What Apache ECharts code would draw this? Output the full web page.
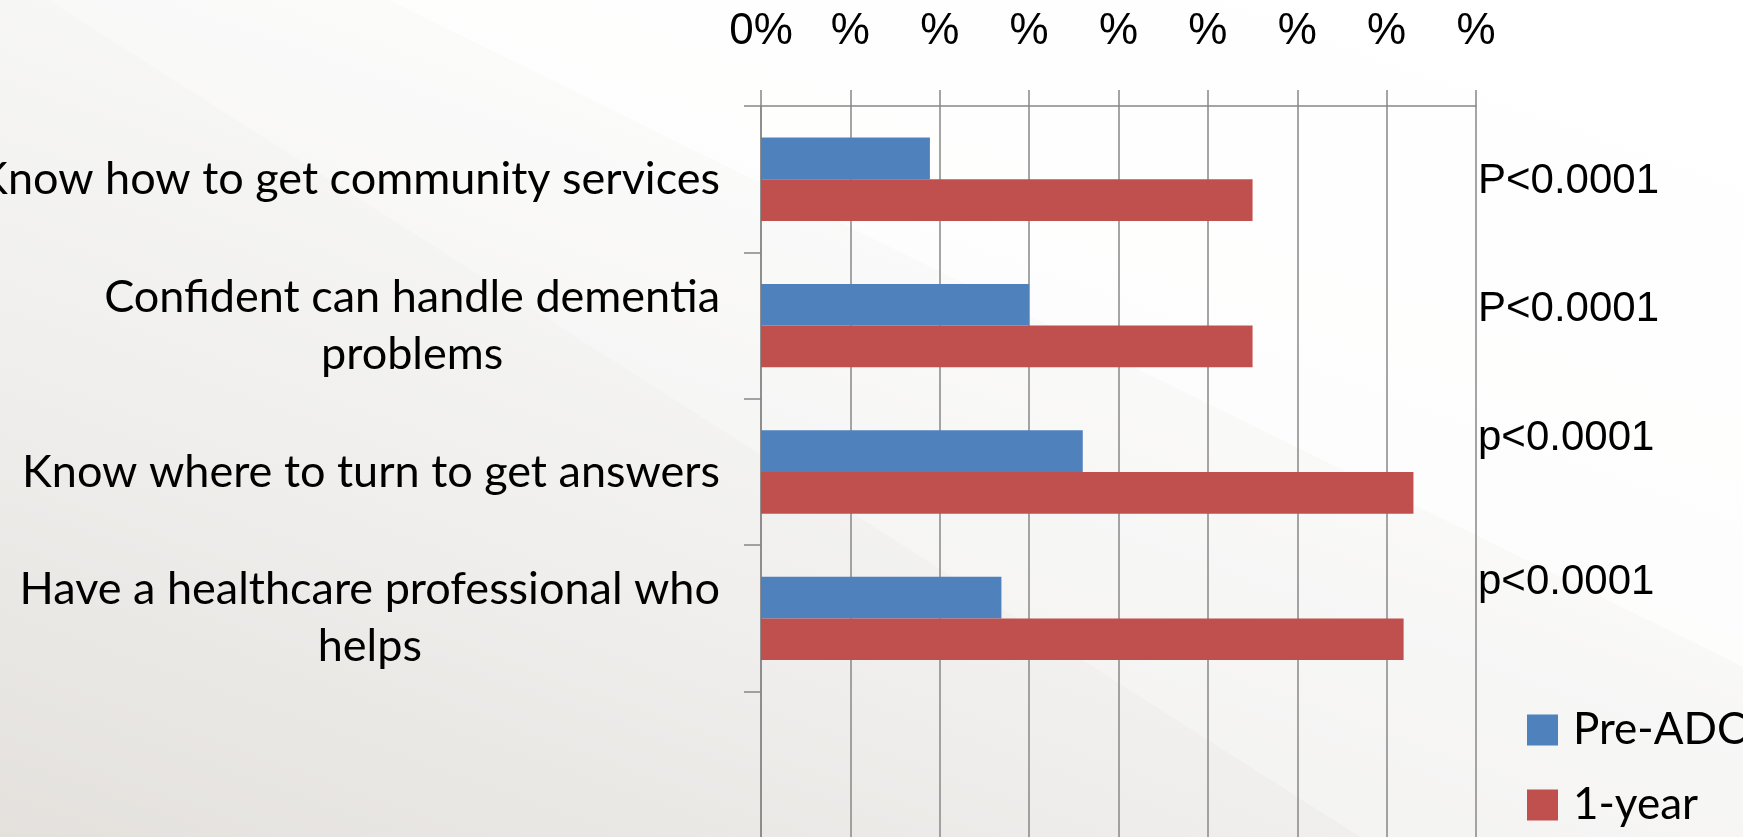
<!DOCTYPE html>
<html>
<head>
<meta charset="utf-8">
<script src="https://cdn.jsdelivr.net/npm/echarts@6/dist/echarts.min.js"></script>
<style>
  html, body { margin: 0; padding: 0; width: 1743px; height: 837px; overflow: hidden; }
  #bg { position: absolute; left: 0; top: 0; }
  #chart { position: absolute; left: 0; top: 0; width: 1743px; height: 837px; }
</style>
</head>
<body>
<!-- soft slide backdrop -->
<svg id="bg" width="1743" height="837" xmlns="http://www.w3.org/2000/svg">
  <defs>
    <linearGradient id="base" x1="0" y1="1" x2="0.75" y2="0">
      <stop offset="0" stop-color="#e4e1dd"/>
      <stop offset="0.35" stop-color="#efeeec"/>
      <stop offset="0.7" stop-color="#f8f8f7"/>
      <stop offset="1" stop-color="#fdfdfd"/>
    </linearGradient>
  </defs>
  <rect width="1743" height="837" fill="url(#base)"/>
  <polygon points="48,0 388,0 1743,667 1743,837 1360,837" fill="#ffffff" fill-opacity="0.3"/>
  <polygon points="388,0 1743,0 1743,667" fill="#ffffff" fill-opacity="0.75"/>
</svg>
<div id="chart"></div>
<script>
// Survey items (top to bottom); the last slot is an empty band
const categories = [
  'Know how to get community services',
  'Confident can handle dementia\nproblems',
  'Know where to turn to get answers',
  'Have a healthcare professional who\nhelps',
  ''
];
const preADC  = [18.9, 30.0, 36.0, 26.9];
const oneYear = [55.0, 55.0, 73.0, 71.9];
const pValues = ['P<0.0001', 'P<0.0001', 'p<0.0001', 'p<0.0001'];
const tickLabels = ['0%', '%', '%', '%', '%', '%', '%', '%', '%'];

const AXIS_GREY = '#878787';
const chart = echarts.init(document.getElementById('chart'), null, { renderer: 'canvas' });

chart.setOption({
  backgroundColor: 'transparent',
  animation: false,
  grid: { left: 761, top: 106, width: 715, height: 732, containLabel: false, outerBoundsMode: 'none' },
  legend: {
    orient: 'vertical',
    left: 1527,
    top: 707,
    padding: 0,
    itemWidth: 31,
    itemHeight: 31,
    itemGap: 29,
    icon: 'rect',
    selectedMode: false,
    data: ['Pre-ADC', '1-year'],
    textStyle: { fontFamily: 'Lato', fontSize: 44, color: '#000', lineHeight: 46, padding: [0, 0, 0, 10] }
  },
  xAxis: {
    type: 'value',
    position: 'top',
    min: 0,
    max: 80,
    interval: 10,
    axisLine: { show: true, lineStyle: { color: AXIS_GREY, width: 1.5 } },
    axisTick: { show: true, length: 16, lineStyle: { color: AXIS_GREY, width: 1.5 } },
    splitLine: { show: true, lineStyle: { color: AXIS_GREY, width: 1.5 } },
    axisLabel: {
      formatter: (v) => tickLabels[Math.round(v / 10)],
      fontFamily: '"Liberation Sans Narrow", "Liberation Sans", sans-serif',
      fontSize: 44,
      color: '#000',
      margin: 52
    }
  },
  yAxis: {
    type: 'category',
    inverse: true,
    data: categories,
    axisLine: { show: true, lineStyle: { color: AXIS_GREY, width: 1.5 } },
    axisTick: { show: true, length: 17, interval: 0, lineStyle: { color: AXIS_GREY, width: 1.5 } },
    splitLine: { show: false },
    axisLabel: {
      interval: 0,
      margin: 41,
      color: '#000',
      fontFamily: 'Lato',
      fontSize: 45,
      lineHeight: 57,
      formatter: (s) => s ? s.split('\n').map((l) => '{c|' + l + '}').join('\n') : '',
      rich: { c: { align: 'center', fontFamily: 'Lato', fontSize: 45, lineHeight: 57, color: '#000' } }
    }
  },
  series: [
    {
      name: 'Pre-ADC',
      type: 'bar',
      data: preADC,
      barGap: '0%',
      barCategoryGap: '43%',
      itemStyle: { color: '#4f81bd' }
    },
    {
      name: '1-year',
      type: 'bar',
      data: oneYear,
      barGap: '0%',
      barCategoryGap: '43%',
      itemStyle: { color: '#c0504d' }
    }
  ]
});

// Significance notes just right of the plot, next to each item
const pShift = [2, -16, -34, -36];
const noteX = chart.convertToPixel({ xAxisIndex: 0 }, 80) + 2;
chart.setOption({
  graphic: pValues.map((t, i) => ({
    type: 'text',
    x: noteX,
    y: chart.convertToPixel({ yAxisIndex: 0 }, i) + pShift[i],
    style: {
      text: t,
      fontFamily: '"Liberation Sans", Arial, sans-serif',
      fontSize: 42,
      fill: '#000',
      align: 'left',
      verticalAlign: 'middle'
    }
  }))
});
</script>
</body>
</html>
